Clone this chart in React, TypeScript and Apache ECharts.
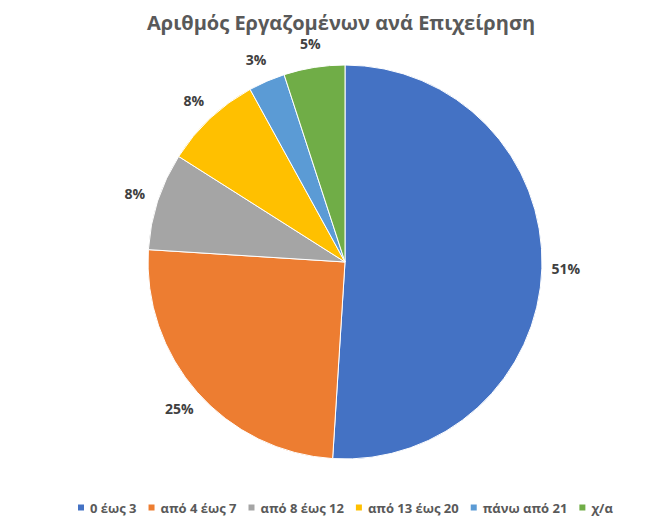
import React, { useEffect, useRef } from "react";
import * as echarts from "echarts";

const categories = ["0 έως 3", "από 4 έως 7", "από 8 έως 12", "από 13 έως 20", "πάνω από 21", "χ/α"];
const values = [51, 25, 8, 8, 3, 5];
const colors = ["#4472C4", "#ED7D31", "#A5A5A5", "#FFC000", "#5B9BD5", "#70AD47"];
const titleText = "Αριθμός Εργαζομένων ανά Επιχείρηση";

export default function App() {
  const ref = useRef<HTMLDivElement>(null);
  useEffect(() => {
    if (!ref.current) return;
    const chart = echarts.init(ref.current, undefined, { renderer: "svg" });
    chart.setOption({
      animation: false,
      backgroundColor: "#ffffff",
      title: {
        text: titleText,
        left: 142,
        top: 7,
        textStyle: {
          fontFamily: "Open Sans",
          fontWeight: "bold",
          fontSize: 20,
          color: "#595959",
        },
      },
      legend: {
        bottom: 3,
        left: 71,
        itemWidth: 8,
        itemHeight: 8,
        itemGap: 10,
        icon: "rect",
        textStyle: {
          fontFamily: "Open Sans",
          fontWeight: "bold",
          fontSize: 13,
          color: "#595959",
        },
        data: categories,
      },
      color: colors,
      series: [
        {
          type: "pie",
          center: [345, 262],
          radius: 197,
          startAngle: 90,
          clockwise: true,
          itemStyle: { borderColor: "#ffffff", borderWidth: 1 },
          label: {
            show: true,
            position: "outside",
            formatter: "{d}%",
            fontFamily: "Open Sans",
            fontWeight: "bold",
            fontSize: 14,
            color: "#404040",
            distanceToLabelLine: 0,
          },
          labelLine: { show: false, length: 24, length2: 0 },
          labelLayout: (p: any) => {
            const w = p.labelRect.width;
            return { dx: p.align === "left" ? -w / 2 : p.align === "right" ? w / 2 : 0 };
          },
          data: categories.map((c, i) => ({ name: c, value: values[i] })),
        },
      ],
    });
    return () => chart.dispose();
  }, []);
  return (
    <div
      ref={ref}
      style={{ position: "fixed", left: 0, top: 0, width: 664, height: 522 }}
    />
  );
}
